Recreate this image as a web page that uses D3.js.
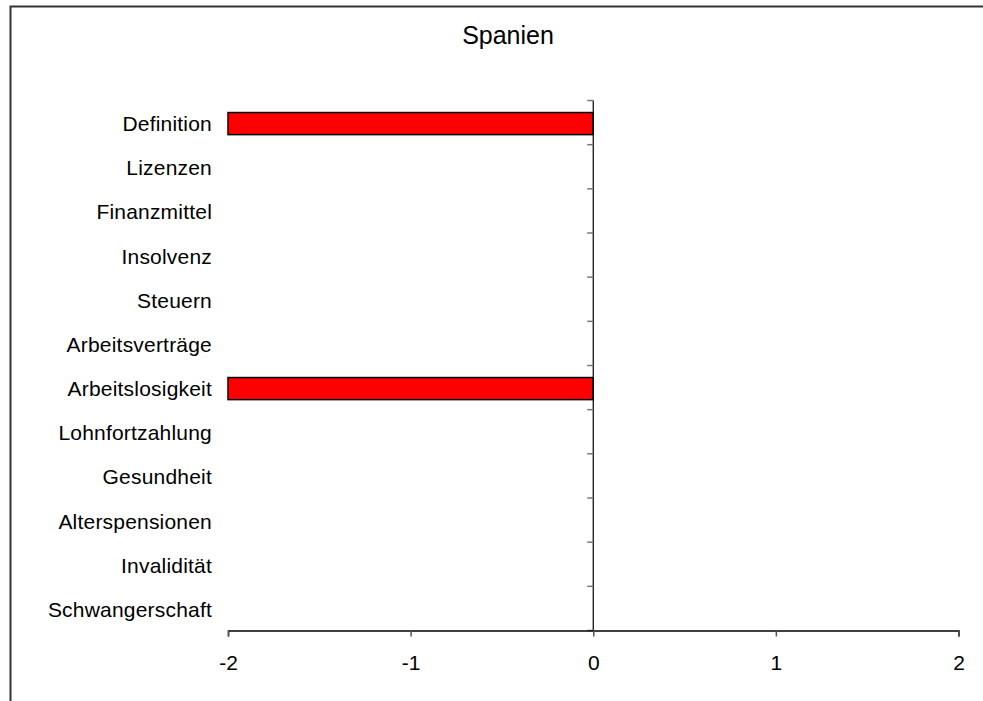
<!DOCTYPE html>
<html>
<head>
<meta charset="utf-8">
<script src="https://cdn.jsdelivr.net/npm/d3@7"></script>
<style>
  html, body { margin: 0; padding: 0; background: #fff; }
  svg { display: block; }
  text { font-family: "Liberation Sans", Arial, sans-serif; fill: #000; }
</style>
</head>
<body>
<svg id="chart" width="983" height="701"></svg>
<script>
// Chart content
const title = "Spanien";
const categories = [
  "Definition", "Lizenzen", "Finanzmittel", "Insolvenz", "Steuern",
  "Arbeitsverträge", "Arbeitslosigkeit", "Lohnfortzahlung", "Gesundheit",
  "Alterspensionen", "Invalidität", "Schwangerschaft"
];
const values = [-2, 0, 0, 0, 0, 0, -2, 0, 0, 0, 0, 0];
const xTicks = [-2, -1, 0, 1, 2];

const svg = d3.select("#chart");

// Outer chart-area frame (runs past the right and bottom edges)
svg.append("rect")
  .attr("x", 10.5).attr("y", 6.5)
  .attr("width", 1000).attr("height", 720)
  .attr("fill", "#fff")
  .attr("stroke", "#333").attr("stroke-width", 2);

const plot = { left: 228, right: 958.5, top: 100.5, bottom: 630.5 };

const x = d3.scaleLinear().domain([-2, 2]).range([plot.left, plot.right]);
const y = d3.scaleBand().domain(categories).range([plot.top, plot.bottom])
  .paddingInner(0.5).paddingOuter(0.25);

// Title
svg.append("text")
  .attr("x", 508).attr("y", 44)
  .attr("text-anchor", "middle")
  .style("font-size", "25px")
  .text(title);

// Bars
svg.append("g").selectAll("rect")
  .data(categories.map((c, i) => ({ c, v: values[i] })))
  .join("rect")
  .attr("x", d => x(Math.min(0, d.v)))
  .attr("y", d => y(d.c) + 1)
  .attr("width", d => Math.abs(x(d.v) - x(0)))
  .attr("height", y.bandwidth())
  .attr("fill", "#ff0000")
  .attr("stroke", "#000")
  .attr("stroke-width", 1.5);

// Category labels on the left
svg.append("g").selectAll("text")
  .data(categories)
  .join("text")
  .attr("x", 212)
  .attr("y", d => y(d) + y.bandwidth() / 2 + 1)
  .attr("dy", "0.36em")
  .attr("text-anchor", "end")
  .style("font-size", "21px")
  .style("letter-spacing", "0.2px")
  .text(d => d);

// Vertical category axis at zero with tick marks between categories
const yAxis = svg.append("g");
yAxis.append("line")
  .attr("x1", x(0)).attr("x2", x(0))
  .attr("y1", plot.top).attr("y2", plot.bottom)
  .attr("stroke", "#000").attr("stroke-width", 1.2);
const step = (plot.bottom - plot.top) / categories.length;
yAxis.selectAll("line.tick")
  .data(d3.range(categories.length + 1))
  .join("line")
  .attr("class", "tick")
  .attr("x1", x(0) - 6).attr("x2", x(0))
  .attr("y1", i => plot.top + i * step)
  .attr("y2", i => plot.top + i * step)
  .attr("stroke", "#777").attr("stroke-width", 1.5);

// Horizontal value axis (plain hyphen for negatives)
const xAxis = svg.append("g")
  .attr("transform", `translate(0,${plot.bottom})`)
  .call(d3.axisBottom(x).tickValues(xTicks).tickFormat(d => String(d))
    .tickSizeInner(6).tickSizeOuter(6).tickPadding(19));
xAxis.select(".domain").attr("stroke", "#000").attr("stroke-width", 1.5);
xAxis.selectAll(".tick line").attr("stroke", "#555").attr("stroke-width", 1.5);
xAxis.selectAll(".tick text")
  .style("font-size", "21px")
  .style("font-family", "'Liberation Sans', Arial, sans-serif")
  .attr("fill", "#000");
</script>
</body>
</html>
